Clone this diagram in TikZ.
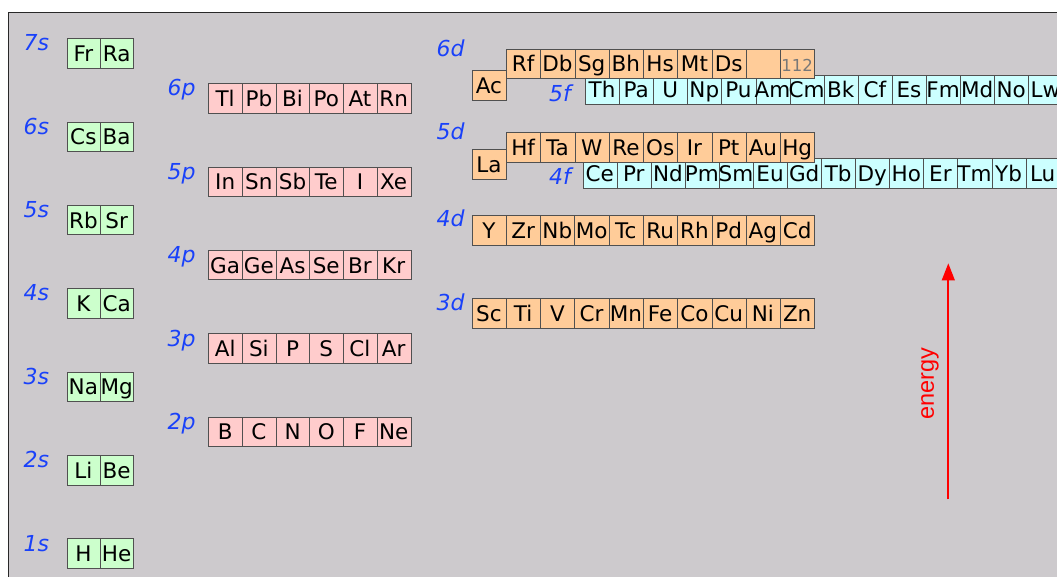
\documentclass[tikz,border=0pt]{standalone}
\usepackage{fontspec}
\usetikzlibrary{arrows.meta}
\newfontfamily\elfont{DejaVu Sans}
\newfontfamily\enfont{Liberation Sans}
\definecolor{bggray}{RGB}{205,202,205}
\definecolor{sgreen}{RGB}{204,255,204}
\definecolor{ppink}{RGB}{255,204,204}
\definecolor{dorange}{RGB}{255,204,153}
\definecolor{fcyan}{RGB}{204,255,255}
\definecolor{lblue}{RGB}{25,65,250}
\definecolor{cellline}{RGB}{80,80,80}
\definecolor{framecol}{RGB}{40,40,40}
\definecolor{numgray}{RGB}{120,120,120}
\tikzset{
  cellbox/.style={draw=cellline, line width=0.9pt, fill=#1, inner sep=0pt, anchor=north west},
  eltext/.style={inner sep=0pt, anchor=base, font=\elfont\fontsize{21.5}{25}\selectfont},
  lbl/.style={inner sep=0pt, anchor=base west, text=lblue, font=\elfont\itshape\fontsize{22}{26}\selectfont},
  numtext/.style={inner sep=0pt, anchor=base, text=numgray, font=\elfont\fontsize{16.5}{19}\selectfont},
  framebox/.style={draw=framecol, line width=1.5pt, fill=bggray},
  energyarrow/.style={draw=red, line width=2pt, -{Triangle[length=17pt,width=12.7pt]}},
  entext/.style={inner sep=0pt, text=red, rotate=90, font=\enfont\fontsize{23.5}{27}\selectfont}
}
% #1 prefix, #2 x0, #3 top, #4 cell width, #5 cell height, #6 fill, #7 list
\newcommand{\cellrow}[7]{%
  \foreach \e [count=\i from 0] in {#7} {
    \node[cellbox=#6, minimum width=#4pt, minimum height=#5pt] (#1-\i) at ({#2+\i*#4},#3) {};
    \node[eltext] (#1-t\i) at ({#2+(\i+0.5)*#4},{#3+#5/2+8.3}) {\e};
  }%
}
\begin{document}
\begin{tikzpicture}[x=1pt,y=-1pt]
\useasboundingbox (0,0) rectangle (1057,577);
\clip (0,0) rectangle (1057,577);
\fill[white] (0,0) rectangle (1057,577);
\node[framebox, inner sep=0pt, minimum width=1080pt, minimum height=590pt, anchor=north west] (frame) at (7.5,12) {};

% s block
\cellrow{s7}{66.7}{38.3}{33.3}{29.5}{sgreen}{Fr,Ra}
\cellrow{s6}{66.7}{121.7}{33.3}{29.5}{sgreen}{Cs,Ba}
\cellrow{s5}{66.7}{205}{33.3}{29.5}{sgreen}{Rb,Sr}
\cellrow{s4}{66.7}{288.3}{33.3}{29.5}{sgreen}{K,Ca}
\cellrow{s3}{66.7}{371.7}{33.3}{29.5}{sgreen}{Na,Mg}
\cellrow{s2}{66.7}{455}{33.3}{29.5}{sgreen}{Li,Be}
\cellrow{s1}{66.7}{538.3}{33.3}{29.5}{sgreen}{H,He}
\node[lbl] (l7s) at (23.5,51) {7s};
\node[lbl] (l6s) at (23.5,134.4) {6s};
\node[lbl] (l5s) at (23.5,217.7) {5s};
\node[lbl] (l4s) at (23.5,301) {4s};
\node[lbl] (l3s) at (23.5,384.3) {3s};
\node[lbl] (l2s) at (23.5,467.7) {2s};
\node[lbl] (l1s) at (23.5,551) {1s};

% p block
\cellrow{p6}{208.3}{83.3}{33.7}{29.4}{ppink}{Tl,Pb,Bi,Po,At,Rn}
\cellrow{p5}{208.3}{166.7}{33.7}{29.4}{ppink}{In,Sn,Sb,Te,I,Xe}
\cellrow{p4}{208.3}{250}{33.7}{29.4}{ppink}{Ga,Ge,As,Se,Br,Kr}
\cellrow{p3}{208.3}{333.3}{33.7}{29.4}{ppink}{Al,Si,P,S,Cl,Ar}
\cellrow{p2}{208.3}{416.7}{33.7}{29.4}{ppink}{B,C,N,O,F,Ne}
\node[lbl] (l6p) at (167.5,96) {6p};
\node[lbl] (l5p) at (167.5,179.3) {5p};
\node[lbl] (l4p) at (167.5,262.7) {4p};
\node[lbl] (l3p) at (167.5,346) {3p};
\node[lbl] (l2p) at (167.5,429.3) {2p};

% f block
\cellrow{f5}{585}{75}{34.1}{29}{fcyan}{Th,Pa,U,Np,Pu,Am,Cm,Bk,Cf,Es,Fm,Md,No,Lw}
\cellrow{f4}{582.7}{158.3}{34.07}{30}{fcyan}{Ce,Pr,Nd,Pm,Sm,Eu,Gd,Tb,Dy,Ho,Er,Tm,Yb,Lu}
\node[lbl] (l5f) at (549,102) {5f};
\node[lbl] (l4f) at (549,185) {4f};

% d block
\cellrow{d6a}{471.7}{70}{34.3}{30}{dorange}{Ac}
\cellrow{d6}{506}{49}{34.26}{29.3}{dorange}{Rf,Db,Sg,Bh,Hs,Mt,Ds,{},{}}
\node[numtext] (n112) at ({506+8.5*34.26},71.3) {112};
\cellrow{d5a}{471.7}{149.3}{34.3}{30}{dorange}{La}
\cellrow{d5}{506}{132.3}{34.26}{29.3}{dorange}{Hf,Ta,W,Re,Os,Ir,Pt,Au,Hg}
\cellrow{d4}{471.7}{215}{34.26}{30}{dorange}{Y,Zr,Nb,Mo,Tc,Ru,Rh,Pd,Ag,Cd}
\cellrow{d3}{471.7}{298.3}{34.26}{30}{dorange}{Sc,Ti,V,Cr,Mn,Fe,Co,Cu,Ni,Zn}
\node[lbl] (l6d) at (436.5,56.7) {6d};
\node[lbl] (l5d) at (436.5,140) {5d};
\node[lbl] (l4d) at (436.5,226.7) {4d};
\node[lbl] (l3d) at (436.5,310) {3d};

% energy arrow
\coordinate (ebot) at (948.3,499.3);
\coordinate (etop) at (948.3,263.3);
\draw[energyarrow] (ebot) -- (etop);
\node[entext] (energy) at (930,384) {energy};
\end{tikzpicture}
\end{document}
